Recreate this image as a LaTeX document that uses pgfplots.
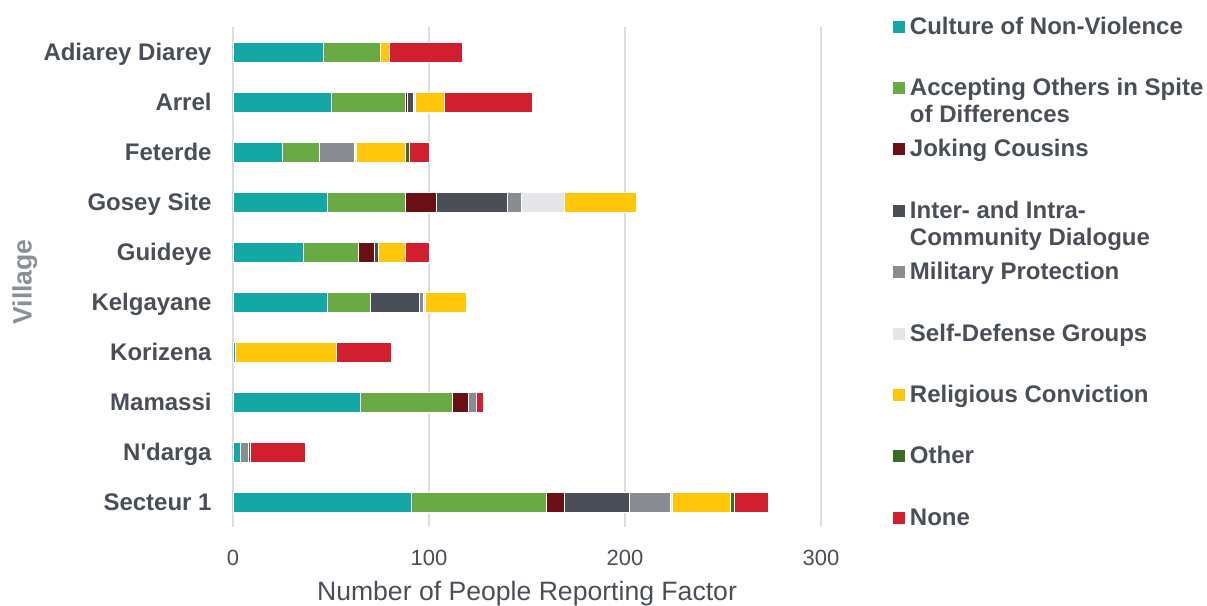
\documentclass[border=0pt]{standalone}
\usepackage{fontspec}
\setmainfont{Liberation Sans}
% same face without the TeX quote mapping, for a straight apostrophe
\newfontfamily\plainquote{Liberation Sans}
\usepackage{pgfplots}
\pgfplotsset{compat=1.18}

\definecolor{textgray}{HTML}{4A4F57}
\definecolor{titlegray}{HTML}{8A8F98}
\definecolor{gridgray}{HTML}{DEDEDE}
\definecolor{cNonViol}{HTML}{13A8A4}
\definecolor{cAccept}{HTML}{6AAA44}
\definecolor{cJoking}{HTML}{6B0F17}
\definecolor{cDialog}{HTML}{4A4F57}
\definecolor{cMilitary}{HTML}{8A8C93}
\definecolor{cSelfDef}{HTML}{E5E6EA}
\definecolor{cReligion}{HTML}{FFC60A}
\definecolor{cOther}{HTML}{3E6B2A}
\definecolor{cNone}{HTML}{D11F2F}

% legend text: first line sets the row, further lines hang below it
\newcommand\legtext[1]{\raisebox{0pt}[10bp][2.5bp]{\begin{tabular}[t]{@{}l@{}}#1\end{tabular}}}

\begin{document}
\begin{tikzpicture}
\useasboundingbox (-116.5bp,-39.5bp) rectangle (487bp,263.5bp);
\begin{axis}[
  at={(0,0)}, anchor=south west,
  scale only axis, width=294bp, height=250bp,
  xbar stacked, bar width=10bp,
  xmin=0, xmax=300, ymin=-0.5, ymax=9.5, y dir=reverse,
  xtick={0,100,200,300}, ytick={0,...,9},
  yticklabels={Adiarey Diarey, Arrel, Feterde, Gosey Site, Guideye, Kelgayane,
               Korizena, Mamassi, {\plainquote N'darga}, Secteur 1},
  major tick length=0pt,
  axis x line=bottom, axis y line=left,
  axis line style={draw=none, -},
  xmajorgrids, grid style={draw=gridgray, line width=0.7bp},
  /pgf/number format/assume math mode=true,
  xticklabel style={font=\fontsize{11bp}{13bp}\selectfont, text=textgray,
                    anchor=base, yshift=-19bp},
  yticklabel style={font=\fontsize{12bp}{14bp}\selectfont\bfseries, text=textgray,
                    anchor=east, inner sep=0pt, xshift=-10.5bp,
                    text height=8.6bp, text depth=0pt},
  xlabel={Number of People Reporting Factor},
  xlabel style={at={(axis description cs:0.5,-0.146)}, anchor=base,
                font=\fontsize{13.3bp}{16bp}\selectfont, text=textgray},
  ylabel={Village},
  ylabel style={at={(axis description cs:-0.354,0.49)}, anchor=center, rotate=0,
                font=\fontsize{13.3bp}{16bp}\selectfont\bfseries, text=titlegray},
  legend cell align=left,
  legend image code/.code={\fill[#1, draw=none] (0bp,-3bp) rectangle (6bp,3bp);},
  legend style={at={(axis description cs:1.1224,1.026)}, anchor=north west,
                draw=none, fill=none, inner sep=0pt, outer sep=0pt,
                row sep=18.2bp, column sep=2.5bp,
                font=\fontsize{12bp}{13.7bp}\selectfont\bfseries, text=textgray,
                nodes={inner sep=0pt, text depth={}}},
]
% rows: 0 Adiarey Diarey, 1 Arrel, 2 Feterde, 3 Gosey Site, 4 Guideye,
%       5 Kelgayane, 6 Korizena, 7 Mamassi, 8 N'darga, 9 Secteur 1
\addplot[fill=cNonViol, draw=white, line width=0.4bp] coordinates
  {(46,0) (50,1) (25,2) (48,3) (36,4) (48,5) (1,6) (65,7) (4,8) (91,9)};
\addlegendentry{\legtext{Culture of Non-Violence}}
\addplot[fill=cAccept, draw=white, line width=0.4bp] coordinates
  {(29,0) (38,1) (19,2) (40,3) (28,4) (22,5) (0,6) (47,7) (0,8) (69,9)};
\addlegendentry{\legtext{Accepting Others in Spite\\of Differences}}
\addplot[fill=cJoking, draw=white, line width=0.4bp] coordinates
  {(0,0) (1,1) (0,2) (16,3) (8,4) (0,5) (0,6) (8,7) (0,8) (9,9)};
\addlegendentry{\legtext{Joking Cousins}}
\addplot[fill=cDialog, draw=white, line width=0.4bp] coordinates
  {(0,0) (3,1) (0,2) (36,3) (2,4) (25,5) (0,6) (0,7) (0,8) (33,9)};
\addlegendentry{\legtext{Inter- and Intra-\\Community Dialogue}}
\addplot[fill=cMilitary, draw=white, line width=0.4bp] coordinates
  {(0,0) (0,1) (18,2) (7,3) (0,4) (2,5) (0,6) (4,7) (4,8) (21,9)};
\addlegendentry{\legtext{Military Protection}}
\addplot[fill=cSelfDef, draw=white, line width=0.4bp] coordinates
  {(0,0) (1,1) (1,2) (22,3) (0,4) (1,5) (0,6) (0,7) (0,8) (1,9)};
\addlegendentry{\legtext{Self-Defense Groups}}
\addplot[fill=cReligion, draw=white, line width=0.4bp] coordinates
  {(5,0) (15,1) (25,2) (37,3) (14,4) (21,5) (52,6) (0,7) (0,8) (30,9)};
\addlegendentry{\legtext{Religious Conviction}}
\addplot[fill=cOther, draw=white, line width=0.4bp] coordinates
  {(0,0) (0,1) (2,2) (0,3) (0,4) (0,5) (0,6) (0,7) (1,8) (2,9)};
\addlegendentry{\legtext{Other}}
\addplot[fill=cNone, draw=white, line width=0.4bp] coordinates
  {(37,0) (45,1) (10,2) (0,3) (12,4) (0,5) (28,6) (4,7) (28,8) (17,9)};
\addlegendentry{\legtext{None}}
\end{axis}
\end{tikzpicture}
\end{document}
